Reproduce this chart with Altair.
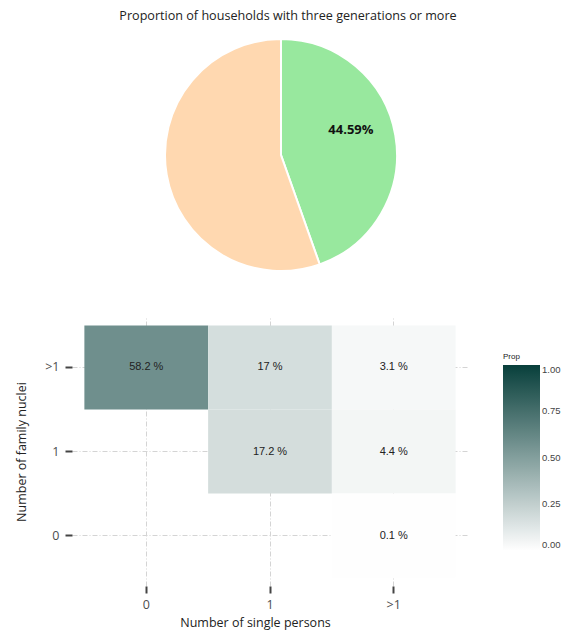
import altair as alt
import pandas as pd

# ---- pie data ----
pie_cat = ["Three generations or more", "Fewer"]
pie_val = [44.59, 55.41]
pie_lab = ["44.59%", ""]
pie_ord = [0, 1]
pie_col = ["#98E89E", "#FFD8B0"]

# ---- heatmap data ----
single_levels = ["0", "1", ">1"]
nuclei_levels = [">1", "1", "0"]
single = ["0", "1", ">1", "1", ">1", ">1"]
nuclei = [">1", ">1", ">1", "1", "1", "0"]
prop = [0.582, 0.170, 0.031, 0.172, 0.044, 0.001]
cell_lab = ["58.2 %", "17 %", "3.1 %", "17.2 %", "4.4 %", "0.1 %"]

pie_df = pd.DataFrame({"cat": pie_cat, "val": pie_val, "lab": pie_lab, "ord": pie_ord})
heat_df = pd.DataFrame({"single": single, "nuclei": nuclei, "Prop": prop, "lab": cell_lab})

TXT = "Open Sans"

pie_base = alt.Chart(pie_df).encode(
    theta=alt.Theta("val:Q", stack=True),
    order=alt.Order("ord:Q"),
)
arc = pie_base.mark_arc(stroke="white", strokeWidth=2).encode(
    color=alt.Color("cat:N", scale=alt.Scale(domain=pie_cat, range=pie_col), legend=None)
)
arc_txt = pie_base.mark_text(radius=74, dx=-3, dy=-12, font=TXT, fontSize=13,
                             fontWeight="bold", color="#111").encode(text="lab:N")
pie = alt.layer(arc, arc_txt).properties(
    width=418, height=232,
    title=alt.TitleParams(
        "Proportion of households with three generations or more",
        font=TXT, fontSize=12.6, fontWeight="normal", color="#222", anchor="middle", dx=7, offset=12,
    ),
)

xs = alt.Scale(domain=single_levels, paddingInner=0, paddingOuter=0.1)
ys = alt.Scale(domain=nuclei_levels, paddingInner=0, paddingOuter=0.1)

axis_common = dict(
    grid=True, gridDash=[5, 2, 1, 2], gridColor="#d4d4d4", gridWidth=1, zindex=0,
    domain=False, tickColor="#444", tickWidth=2, tickSize=7,
    labelFont=TXT, labelFontSize=12.5, labelColor="#4d4d4d",
    titleFont=TXT, titleFontSize=12.5, titleFontWeight="normal", titleColor="#222",
)

heat_base = alt.Chart(heat_df).encode(
    x=alt.X("single:N", scale=xs, sort=single_levels,
            axis=alt.Axis(title="Number of single persons", labelAngle=0, labelPadding=5,
                          titlePadding=6, titleX=183, **axis_common)),
    y=alt.Y("nuclei:N", scale=ys, sort=nuclei_levels,
            axis=alt.Axis(title="Number of family nuclei", labelPadding=6, titlePadding=16,
                          **axis_common)),
)
rect = heat_base.mark_rect().encode(
    color=alt.Color("Prop:Q",
                    scale=alt.Scale(domain=[0, 1], range=["#FEFEFE", "#083F3B"], interpolate="rgb"),
                    legend=alt.Legend(
                        title="Prop", titleFont="Liberation Sans", titleFontSize=8,
                        titleFontWeight="normal", titleColor="#222", titlePadding=4,
                        labelFont="Liberation Sans", labelFontSize=9.5, labelColor="#444",
                        values=[0, 0.25, 0.5, 0.75, 1], format=".2f",
                        gradientLength=185, gradientThickness=37, gradientStrokeWidth=0,
                        orient="none", legendX=431, legendY=36, direction="vertical",
                    ))
)
rect_txt = heat_base.mark_text(font="Liberation Sans", fontSize=11, color="#222").encode(text="lab:N")
heat = alt.layer(rect, rect_txt).properties(width=396, height=269)

chart = alt.vconcat(pie, heat, spacing=42).properties(
    padding={"left": 7, "top": 2, "right": 5, "bottom": 5}
).configure_view(stroke=None)

chart.save("out.html", embed_options={"renderer": "svg", "actions": False})
